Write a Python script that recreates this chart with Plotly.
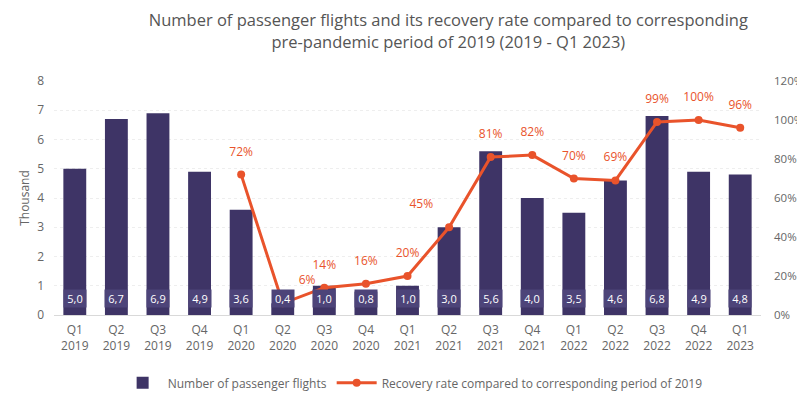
import plotly.graph_objects as go

quarters = ["Q1<br>2019", "Q2<br>2019", "Q3<br>2019", "Q4<br>2019",
            "Q1<br>2020", "Q2<br>2020", "Q3<br>2020", "Q4<br>2020",
            "Q1<br>2021", "Q2<br>2021", "Q3<br>2021", "Q4<br>2021",
            "Q1<br>2022", "Q2<br>2022", "Q3<br>2022", "Q4<br>2022",
            "Q1<br>2023"]
flights = [5.0, 6.7, 6.9, 4.9, 3.6, 0.4, 1.0, 0.8, 1.0, 3.0, 5.6, 4.0, 3.5, 4.6, 6.8, 4.9, 4.8]
recovery = [None, None, None, None, 72, 6, 14, 16, 20, 45, 81, 82, 70, 69, 99, 100, 96]

BAR = "#3e3466"
BOX = "#4d4479"
LINE = "#e9532b"
GRAY = "#666666"

bar_text = [f"{v:.1f}".replace(".", ",") for v in flights]
rate_text = ["" if r is None else f"{r}%" for r in recovery]
rate_pos = ["top center"] * len(recovery)
rate_pos[5] = "top right"
rate_pos[9] = "top left"

fig = go.Figure()
fig.add_trace(go.Bar(
    x=quarters, y=flights, name="Number of passenger flights",
    marker=dict(color=BAR, line=dict(width=0)),
))
fig.add_trace(go.Scatter(
    x=quarters, y=recovery, name="Recovery rate compared to corresponding period of 2019",
    mode="lines+markers", yaxis="y2",
    line=dict(color=LINE, width=3), marker=dict(color=LINE, size=8),
))
# percentage labels, offset above the points via an invisible larger marker
fig.add_trace(go.Scatter(
    x=quarters, y=recovery, mode="text+markers", yaxis="y2",
    marker=dict(size=24, opacity=0), text=rate_text, textposition=rate_pos,
    textfont=dict(color=LINE, size=12, family="Open Sans"),
    showlegend=False, hoverinfo="skip",
))

annotations = []
for q, t in zip(quarters, bar_text):
    annotations.append(dict(
        x=q, y=0.55, xref="x", yref="y", text=t, showarrow=False,
        font=dict(color="white", size=11, family="Open Sans"),
        bgcolor=BOX, width=22, height=17, borderpad=0,
    ))

fig.update_layout(
    width=805, height=402,
    margin=dict(l=46, r=52, t=73, b=89),
    paper_bgcolor="white", plot_bgcolor="white",
    font=dict(family="Open Sans", color=GRAY, size=12),
    title=dict(
        text="Number of passenger flights and its recovery rate compared to corresponding<br>pre-pandemic period of 2019 (2019 - Q1 2023)",
        x=0.547, xanchor="center", y=0.955, yanchor="top",
        font=dict(size=16.5, color="#555555", family="Open Sans"),
    ),
    bargap=0.45,
    annotations=annotations,
    xaxis=dict(showgrid=False, showline=True, linecolor="#d9d9d9", automargin=False,
               range=[-0.5, len(quarters) - 0.5],
               tickfont=dict(size=12, color=GRAY), ticks="", ticklabelstandoff=4),
    yaxis=dict(range=[0, 8], dtick=1, showgrid=True, gridcolor="#eeeeee",
               griddash="dot", zeroline=False, ticklabelstandoff=9, automargin=False,
               title=dict(text="Thousand", font=dict(size=12, color=GRAY), standoff=4),
               tickfont=dict(size=12, color=GRAY)),
    yaxis2=dict(range=[0, 120], dtick=20, overlaying="y", side="right", automargin=False,
                ticksuffix="%", showgrid=False, zeroline=False, ticklabelstandoff=12,
                tickfont=dict(size=11.5, color=GRAY)),
    legend=dict(orientation="h", x=0.09, y=-0.29, xanchor="left", yanchor="middle",
                font=dict(size=12, color=GRAY), traceorder="normal",
                itemwidth=40),
)

fig.write_html("out.html")
